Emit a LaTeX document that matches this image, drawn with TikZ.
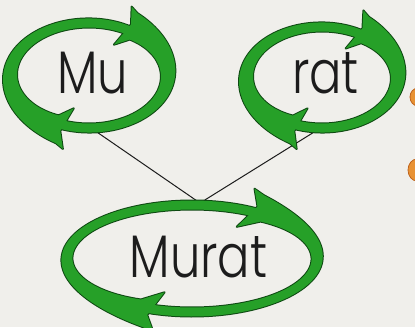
\documentclass[tikz,border=0pt]{standalone}
\usepackage{fontspec}
\usepackage{graphicx}
\IfFontExistsTF{Poppins Light}{\newfontfamily\lblfont{Poppins Light}}{\newfontfamily\lblfont{Poppins}}
\definecolor{paper}{RGB}{240,239,235}
\definecolor{arrowgreen}{RGB}{38,160,40}
\definecolor{arrowedge}{RGB}{14,72,18}
\definecolor{inkgray}{RGB}{28,28,28}
\definecolor{blob}{RGB}{232,146,52}
\definecolor{blobedge}{RGB}{190,100,30}
\pgfmathdeclarefunction{fw}{1}{\pgfmathparse{pow(max(0.001,1-((#1)-\ts)/(\te-\ts)),\pp)}}
% one curved arrow of a ring: #1 style, #2 cx, #3 cy, #4 a, #5 b, #6 start angle, #7 end angle, #8 taper power
\newcommand\ringhead[8]{%
  \def\cx{#2}\def\cy{#3}\def\ra{#4}\def\rb{#5}\def\ts{#6}\def\te{#7}\def\pp{#8}%
  \pgfmathsetmacro\tb{#6-5}\pgfmathsetmacro\ti{#6+6}\pgfmathsetmacro\tx{#7+3}%
  \path[#1] ({\cx+(\ra+21)*cos(\tb)},{\cy+(\rb+21)*sin(\tb)})
    -- ({\cx+(\ra+4)*cos(\ts)},{\cy+(\rb+4)*sin(\ts)})
    -- ({\cx+(\ra-21)*cos(\tb)},{\cy+(\rb-21)*sin(\tb)})
    -- plot[domain=\ti:\tx,samples=70,variable=\q] ({\cx+(\ra-7-4*fw(\q))*cos(\q)},{\cy+(\rb-7-4*fw(\q))*sin(\q)})
    -- plot[domain=\tx:\ts,samples=70,variable=\q] ({\cx+(\ra+2+15*fw(\q))*cos(\q)},{\cy+(\rb+2+15*fw(\q))*sin(\q)})
    -- cycle;}
\newcommand\ring[5]{% cx cy a b power
  \ringhead{ringedge}{#1}{#2}{#3}{#4}{-60}{110}{#5}%
  \ringhead{ringedge}{#1}{#2}{#3}{#4}{110}{300}{#5}%
  \ringhead{ringfill}{#1}{#2}{#3}{#4}{-60}{110}{#5}%
  \ringhead{ringfill}{#1}{#2}{#3}{#4}{110}{300}{#5}}
\tikzset{
  ringedge/.style={draw=arrowedge,line width=2pt,line join=round},
  ringfill/.style={fill=arrowgreen},
  link/.style={draw=inkgray,line width=1pt},
  lbl/.style={inner sep=0pt,anchor=base,text=inkgray,font=\lblfont\fontsize{60}{60}\selectfont},
}
\begin{document}
\begin{tikzpicture}[x=1pt,y=-1pt]
\useasboundingbox (0,0) rectangle (415,327);
\clip (0,0) rectangle (415,327);
\fill[paper] (0,0) rectangle (415,327);
% orange pieces at the right edge
\filldraw[fill=blob,draw=blobedge,line width=0.8pt] (418,97) ellipse [x radius=8, y radius=9];
\filldraw[fill=blob,draw=blobedge,line width=0.8pt] (417,170) ellipse [x radius=9, y radius=11];
% connectors
\coordinate (mub) at (91,128);
\coordinate (ratb) at (319,129);
\coordinate (murt) at (200,203);
\draw[link] (mub) -- (murt);
\draw[link] (ratb) -- (murt);
% rings
\ring{89}{75.5}{80}{55}{3}
\ring{322}{77.5}{77}{53}{3}
\ring{192}{258.5}{127}{56}{5}
% labels
\node[lbl] (mu) at (92.5,93) {\scalebox{0.8}[1]{Mu}};
\node[lbl] (rat) at (325.5,93) {\scalebox{0.8}[1]{rat}};
\node[lbl] (murat) at (198.5,277) {\scalebox{0.8}[1]{Murat}};
\end{tikzpicture}
\end{document}
